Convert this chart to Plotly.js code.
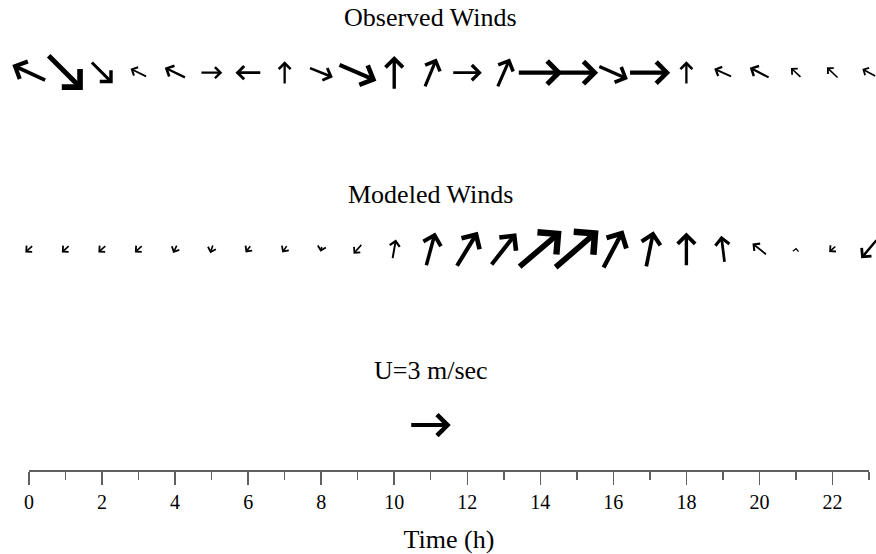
<!DOCTYPE html>
<html>
<head>
<meta charset="utf-8">
<script src="https://cdn.plot.ly/plotly-3.0.1.min.js"></script>
<style>html,body{margin:0;padding:0;background:#fff}</style>
</head>
<body>
<div id="chart" style="width:876px;height:554px"></div>
<script>
// Hourly wind vectors (m/s): u = eastward, v = northward
const hours = [0, 1, 2, 3, 4, 5, 6, 7, 8, 9, 10, 11, 12, 13, 14, 15, 16, 17, 18, 19, 20, 21, 22, 23];

const observedU = [-2.5, 2.6, 1.6, -1.2, -1.55, 1.6, -1.9, 0, 1.75, 2.8, 0, 0.88, 2.18, 0.93, 3.3, 3.2, 2.18, 3.05, 0, -1.3, -1.45, -0.75, -0.83, -1.0];
const observedV = [1.15, -2.6, -1.6, 0.6, 0.75, 0, 0, 1.7, -0.7, -1.2, 2.5, 2.13, 0, 2.13, 0, 0, -0.95, 0, 1.7, 0.58, 0.75, 0.7, 0.8, 0.55];

const modeledU = [-0.55, -0.55, -0.55, -0.55, -0.28, -0.2, -0.38, -0.35, -0.1, -0.62, 0.25, 0.68, 1.58, 1.88, 3.18, 3.25, 1.5, 0.55, 0, -0.25, -1.05, 0.02, -0.5, -1.17];
const modeledV = [-0.5, -0.5, -0.5, -0.5, -0.58, -0.62, -0.5, -0.52, -0.4, -0.7, 1.43, 2.5, 2.58, 2.38, 2.7, 2.8, 2.83, 2.68, 2.5, 2.0, 0.83, 0.2, -0.45, -1.4];

// Reference vector shown under the label
const keyHour = 11;
const keyU = 3;
const keyV = 0;

const panelTitles = ['Observed Winds', 'Modeled Winds', 'U=3 m/sec'];
const xTitle = 'Time (h)';

// ---- layout geometry ----
const W = 876, H = 554;
const margin = {l: 29, r: 7, t: 0, b: 84};
const xMax = 23;
const pxPerHour = (W - margin.l - margin.r) / xMax;
const yMax = (H - margin.t - margin.b) / pxPerHour;   // equal pixel scale on both axes
const speedScale = 0.365;                            // x-axis hours per 1 m/s of wind
const rowObserved = 10.88, rowModeled = 6.05, rowKey = 1.23;
const titleOffset = 1.5;
const serif = 'Liberation Serif, Times New Roman, serif';

function windArrow(x0, y0, u, v) {
  const dx = u * speedScale, dy = v * speedScale;
  const mag = Math.hypot(u, v);
  // stroke (and so head size) grows with speed; very light winds keep a fine stroke
  const width = mag < 0.3 ? 1.1 : Math.max(1.6, 1.35 * mag);
  return {
    x: x0 + dx / 2, y: y0 + dy / 2,
    ax: x0 - dx / 2, ay: y0 - dy / 2,
    xref: 'x', yref: 'y', axref: 'x', ayref: 'y',
    text: '', showarrow: true, arrowhead: 4, arrowsize: 1,
    arrowwidth: width,
    arrowcolor: '#000', standoff: 0, borderpad: 0,
    font: {size: 1}
  };
}

function label(text, x, y) {
  return {
    x: x, y: y, xref: 'x', yref: 'y', text: text, showarrow: false,
    xanchor: 'center', yanchor: 'middle',
    font: {family: serif, size: 26, color: '#000'}
  };
}

const annotations = [];
hours.forEach((h, i) => annotations.push(windArrow(h, rowObserved, observedU[i], observedV[i])));
hours.forEach((h, i) => annotations.push(windArrow(h, rowModeled, modeledU[i], modeledV[i])));
annotations.push(windArrow(keyHour, rowKey, keyU, keyV));
annotations.push(label(panelTitles[0], keyHour, rowObserved + titleOffset));
annotations.push(label(panelTitles[1], keyHour, rowModeled + titleOffset));
annotations.push(label(panelTitles[2], keyHour, rowKey + titleOffset));

const traces = [{
  x: hours, y: hours.map(() => rowObserved),
  type: 'scatter', mode: 'markers', marker: {opacity: 0},
  hoverinfo: 'skip', showlegend: false
}];

const axisGray = '#606060';
const layout = {
  width: W, height: H, margin: margin,
  paper_bgcolor: '#fff', plot_bgcolor: '#fff',
  showlegend: false,
  xaxis: {
    range: [0, xMax], tick0: 0, dtick: 2,
    ticks: 'outside', ticklen: 13, tickwidth: 1.5, tickcolor: axisGray,
    showline: true, linecolor: axisGray, linewidth: 1.5,
    showgrid: false, zeroline: false, fixedrange: true,
    minor: {tick0: 0, dtick: 1, ticks: 'outside', ticklen: 8, tickwidth: 1.5, tickcolor: axisGray, showgrid: false},
    tickfont: {family: serif, size: 20, color: '#000'},
    title: {text: xTitle, font: {family: serif, size: 26, color: '#000'}, standoff: 19}
  },
  yaxis: {range: [0, yMax], visible: false, fixedrange: true},
  annotations: annotations
};

Plotly.newPlot('chart', traces, layout, {staticPlot: true});
</script>
</body>
</html>
